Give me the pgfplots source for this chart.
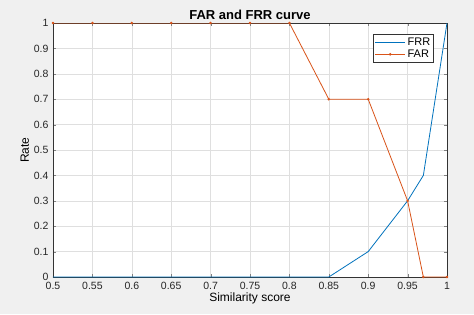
\documentclass[border=0pt]{standalone}
\usepackage{pgfplots}
\pgfplotsset{compat=1.18}
\usepackage{fontspec}
\setmainfont{Liberation Sans}
\definecolor{mblue}{rgb}{0,0.447,0.741}
\definecolor{morange}{rgb}{0.85,0.325,0.098}
\definecolor{bg}{RGB}{240,240,240}
\begin{document}
\begin{tikzpicture}
\fill[bg] (-53pt,-37pt) rectangle (421pt,277pt);
\begin{axis}[
  scale only axis, width=394pt, height=254pt,
  xmin=0.5, xmax=1, ymin=0, ymax=1,
  xtick={0.5,0.55,...,1.01}, ytick={0,0.1,...,1.01},
  xticklabels={0.5,0.55,0.6,0.65,0.7,0.75,0.8,0.85,0.9,0.95,1},
  yticklabels={0,0.1,0.2,0.3,0.4,0.5,0.6,0.7,0.8,0.9,1},
  tick align=inside, tick pos=both,
  major tick length=3pt,
  grid=major, grid style={gray!25, line width=0.5pt},
  axis line style={black!80, line width=0.6pt},
  axis background/.style={fill=white},
  tick label style={font=\fontsize{10.5}{12}\selectfont, text=black!85},
  xticklabel style={yshift=-1.5pt},
  yticklabel style={xshift=-1pt},
  /pgf/number format/assume math mode=true,
  title={\bfseries FAR and FRR curve},
  title style={font=\fontsize{13}{15}\selectfont, yshift=-6pt},
  xlabel={Similarity score}, ylabel={Rate},
  label style={font=\fontsize{12}{14}\selectfont},
  xlabel style={yshift=4pt}, ylabel style={yshift=-2pt},
  legend style={at={(0.967,0.957)}, anchor=north east, draw=black!80, fill=white,
    font=\fontsize{11}{13}\selectfont, line width=0.6pt, inner sep=1.5pt, row sep=-1pt},
  legend cell align=left,
]
\addlegendimage{mblue, line width=0.9pt, legend image code/.code={\draw[mblue, line width=0.9pt] (0cm,0cm) -- (1.05cm,0cm);}}
\addlegendentry{FRR}
\addlegendimage{morange, line width=0.9pt, legend image code/.code={\draw[morange, line width=0.9pt] (0cm,0cm) -- (1.05cm,0cm); \fill[morange] (0.525cm,0cm) circle (0.8pt);}}
\addlegendentry{FAR}
\addplot[mblue, line width=0.8pt, no markers, forget plot] coordinates {
(0.5,0) (0.55,0) (0.6,0) (0.65,0) (0.7,0) (0.75,0) (0.8,0) (0.85,0) (0.9,0.1) (0.95,0.3) (0.97,0.4) (1,1)};
\addplot[morange, line width=0.8pt, mark=*, mark size=0.8pt, forget plot] coordinates {
(0.5,1) (0.55,1) (0.6,1) (0.65,1) (0.7,1) (0.75,1) (0.8,1) (0.85,0.7) (0.9,0.7) (0.95,0.3) (0.97,0) (1,0)};
\end{axis}
\end{tikzpicture}
\end{document}
